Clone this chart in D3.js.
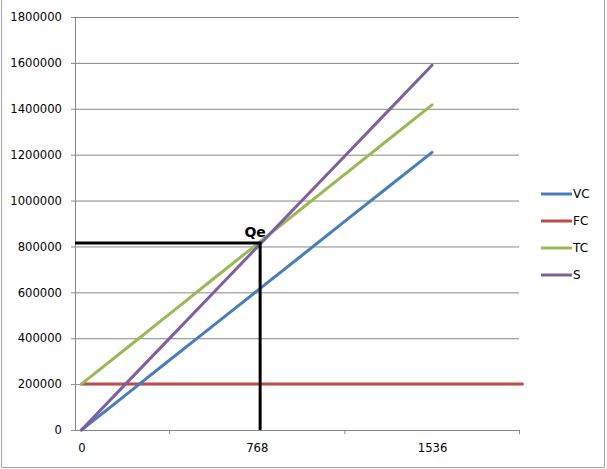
<!DOCTYPE html>
<html>
<head>
<meta charset="utf-8">
<script src="https://cdn.jsdelivr.net/npm/d3@7/dist/d3.min.js"></script>
<style>
  body { margin: 0; background: #fff; }
  svg { display: block; font-family: "DejaVu Sans", sans-serif; }
</style>
</head>
<body>
<svg id="mainsvg" width="607" height="469"></svg>
<script>
// values
const quantities = [0, 192, 384, 576, 768, 960, 1152, 1344, 1536];
const vcValues = [0, 151000, 303000, 454000, 605000, 756000, 908000, 1059000, 1210000];
const tcValues = [200000, 352000, 504000, 657000, 809000, 961000, 1113000, 1265000, 1417000];
const sValues = [0, 199000, 397000, 596000, 795000, 994000, 1192000, 1391000, 1590000];
const fcQuantities = [0, 1932];
const fcValues = [200000, 200000];
const seriesNames = ['VC', 'FC', 'TC', 'S'];
const yTicks = [0, 200000, 400000, 600000, 800000, 1000000, 1200000, 1400000, 1600000, 1800000];
const xLabels = [0, 768, 1536];
const xTickMarks = [384, 1152, 1917];
const qeQuantity = 783;
const qeValue = 815000;

const color = {
  VC: '#4a7ebb',
  FC: '#be4b48',
  TC: '#98b954',
  S: '#7d60a0'
};

const svg = d3.select('#mainsvg');
const width = +svg.attr('width');
const height = +svg.attr('height');
const margin = { top: 17, right: 88, bottom: 39, left: 75 };
const innerWidth = width - margin.left - margin.right;
const innerHeight = height - margin.top - margin.bottom;

// outer chart border (left, bottom, right)
svg.append('path')
  .attr('d', `M1.5,0 V${height - 1.5} H${width - 2.5} V0`)
  .attr('fill', 'none')
  .attr('stroke', '#a6a6a6');

const xScale = d3.scaleLinear()
  .domain([-28, 1917])
  .range([0, innerWidth]);
const yScale = d3.scaleLinear()
  .domain([0, 1800000])
  .range([innerHeight, 0]);

const g = svg.append('g')
  .attr('id', 'maingroup')
  .attr('transform', `translate(${margin.left}, ${margin.top})`);

// gridlines
const grid = g.append('g')
  .call(d3.axisLeft(yScale).tickValues(yTicks.slice(1)).tickSize(-innerWidth).tickFormat(''));
grid.select('.domain').remove();
grid.selectAll('text').remove();
grid.selectAll('line').attr('stroke', '#868686').attr('stroke-width', 1);

// y axis
const yAxis = g.append('g')
  .call(d3.axisLeft(yScale).tickValues(yTicks).tickSize(4).tickSizeOuter(0).tickPadding(9).tickFormat(d3.format('d')))
  .attr('font-size', 11.6)
  .attr('font-family', '"DejaVu Sans", sans-serif');
yAxis.select('.domain').attr('stroke', '#868686');
yAxis.selectAll('line').attr('stroke', '#868686');
yAxis.selectAll('text').attr('fill', '#000');

// x axis line + tick marks
const xAxis = g.append('g')
  .attr('transform', `translate(0, ${innerHeight})`)
  .call(d3.axisBottom(xScale).tickValues(xTickMarks).tickSize(4).tickSizeOuter(0).tickFormat(''));
xAxis.select('.domain').attr('stroke', '#868686');
xAxis.selectAll('text').remove();
xAxis.selectAll('line').attr('stroke', '#868686');

// x labels
const xLab = g.append('g')
  .attr('transform', `translate(0, ${innerHeight})`)
  .call(d3.axisBottom(xScale).tickValues(xLabels).tickSize(0).tickPadding(14).tickFormat(d3.format('d')))
  .attr('font-size', 11.6)
  .attr('font-family', '"DejaVu Sans", sans-serif');
xLab.select('.domain').remove();
xLab.selectAll('text').attr('fill', '#000');

// series
const line = d3.line()
  .x(d => xScale(d[0]))
  .y(d => yScale(d[1]));

const series = [
  { name: 'FC', points: d3.zip(fcQuantities, fcValues) },
  { name: 'VC', points: d3.zip(quantities, vcValues) },
  { name: 'TC', points: d3.zip(quantities, tcValues) },
  { name: 'S', points: d3.zip(quantities, sValues) }
];

g.selectAll('path.series')
  .data(series)
  .enter()
  .append('path')
  .attr('class', 'series')
  .attr('d', d => line(d.points))
  .attr('fill', 'none')
  .attr('stroke', d => color[d.name])
  .attr('stroke-width', 3)
  .attr('stroke-linecap', 'round');

// Qe marker lines
g.append('path')
  .attr('d', line([[xScale.domain()[0], qeValue], [qeQuantity, qeValue], [qeQuantity, 0]]))
  .attr('fill', 'none')
  .attr('stroke', '#000')
  .attr('stroke-width', 3);

g.append('text').text('Qe')
  .attr('x', xScale(qeQuantity) - 5)
  .attr('y', yScale(qeValue) - 6)
  .attr('text-anchor', 'middle')
  .attr('font-size', 14)
  .attr('font-weight', 'bold')
  .attr('fill', '#000');

// legend
const legend = svg.append('g')
  .attr('transform', 'translate(541, 194)');
const legendItems = legend.selectAll('g')
  .data(seriesNames)
  .enter()
  .append('g')
  .attr('transform', (d, i) => `translate(0, ${i * 27})`);
legendItems.append('line')
  .attr('x1', 0).attr('x2', 31)
  .attr('stroke', d => color[d])
  .attr('stroke-width', 3);
legendItems.append('text')
  .text(d => d)
  .attr('x', 32)
  .attr('dy', '0.35em')
  .attr('font-size', 12)
  .attr('fill', '#000');
</script>
</body>
</html>
